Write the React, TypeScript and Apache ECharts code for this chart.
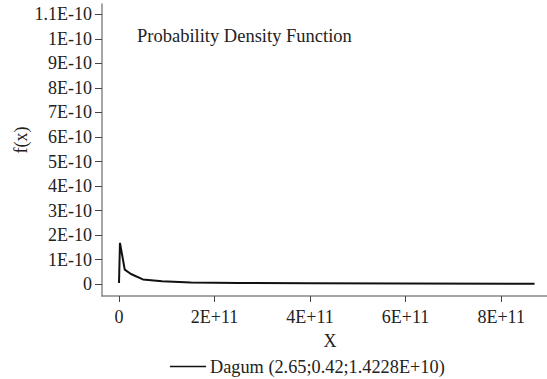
import React, { useEffect, useRef } from "react";
import * as echarts from "echarts";

const xValues = [0, 2e9, 1.2e10, 2.5e10, 5e10, 9e10, 1.5e11, 2.5e11, 4e11, 6e11, 8.7e11];
const yValues = [0.05e-10, 1.69e-10, 0.6e-10, 0.42e-10, 0.2e-10, 0.12e-10, 0.07e-10, 0.055e-10, 0.045e-10, 0.035e-10, 0.025e-10];
const xTickValues = [0, 2e11, 4e11, 6e11, 8e11];
const xTickLabels = ["0", "2E+11", "4E+11", "6E+11", "8E+11"];
const yTickValues = [0, 1e-10, 2e-10, 3e-10, 4e-10, 5e-10, 6e-10, 7e-10, 8e-10, 9e-10, 10e-10, 11e-10];
const yTickLabels = ["0", "1E-10", "2E-10", "3E-10", "4E-10", "5E-10", "6E-10", "7E-10", "8E-10", "9E-10", "1E-10", "1.1E-10"];
const seriesName = "Dagum (2.65;0.42;1.4228E+10)";
const titleText = "Probability Density Function";
const xAxisName = "X";
const yAxisName = "f(x)";

const FONT = "Liberation Serif";
const TXT = { fontFamily: FONT, fontSize: 18, color: "#222", fontWeight: "normal" as const };

export default function App() {
  const ref = useRef<HTMLDivElement>(null);
  useEffect(() => {
    if (!ref.current) return;
    const chart = echarts.init(ref.current, undefined, { renderer: "svg" });
    const nearest = (arr: number[], v: number) => {
      let best = 0;
      for (let i = 0; i < arr.length; i++) {
        if (Math.abs(arr[i] - v) < Math.abs(arr[best] - v)) best = i;
      }
      return best;
    };
    chart.setOption({
      animation: false,
      backgroundColor: "#ffffff",
      title: {
        text: titleText,
        left: 137,
        top: 26,
        padding: 0,
        textStyle: { ...TXT, fontSize: 18.5 },
      },
      legend: {
        data: [seriesName],
        left: 170,
        top: 357.5,
        padding: 0,
        icon: "rect",
        itemWidth: 36,
        itemHeight: 1.5,
        itemGap: 4,
        textStyle: { ...TXT, fontSize: 18.3, padding: [0, 0, 0, -1] },
      },
      graphic: [
        {
          type: "text",
          x: 21,
          y: 140,
          rotation: Math.PI / 2,
          style: {
            text: yAxisName,
            fontFamily: FONT,
            fontSize: 18,
            fill: "#222",
            align: "center",
            verticalAlign: "middle",
          },
        },
      ],
      grid: { left: 102, top: 4, right: 0, bottom: 83, containLabel: false, outerBoundsMode: "none" },
      xAxis: {
        type: "value",
        min: -3.56e10,
        max: 8.96e11,
        name: xAxisName,
        nameLocation: "middle",
        nameGap: 36,
        nameTextStyle: { ...TXT, padding: [0, 0, 0, 11] },
        axisLine: { show: true, onZero: false, lineStyle: { color: "#888", width: 1.5 } },
        axisTick: { show: true, inside: false, length: 6, customValues: xTickValues, lineStyle: { color: "#444" } },
        axisLabel: {
          customValues: xTickValues,
          margin: 12,
          ...TXT,
          formatter: (v: number) => xTickLabels[nearest(xTickValues, v)],
        },
        splitLine: { show: false },
      },
      yAxis: {
        type: "value",
        min: -0.477e-10,
        max: 11.42e-10,
        axisLine: { show: true, onZero: false, lineStyle: { color: "#888", width: 1.5 } },
        axisTick: { show: true, inside: false, length: 7, customValues: yTickValues, lineStyle: { color: "#444" } },
        axisLabel: {
          customValues: yTickValues,
          margin: 10,
          ...TXT,
          formatter: (v: number) => yTickLabels[nearest(yTickValues, v)],
        },
        splitLine: { show: false },
      },
      series: [
        {
          name: seriesName,
          type: "line",
          data: xValues.map((x, i) => [x, yValues[i]]),
          symbol: "none",
          lineStyle: { color: "#111", width: 2 },
          itemStyle: { color: "#111" },
        },
      ],
    });
    return () => chart.dispose();
  }, []);
  return (
    <div
      ref={ref}
      style={{ position: "fixed", left: 0, top: 0, width: 547, height: 379, background: "#fff" }}
    />
  );
}
